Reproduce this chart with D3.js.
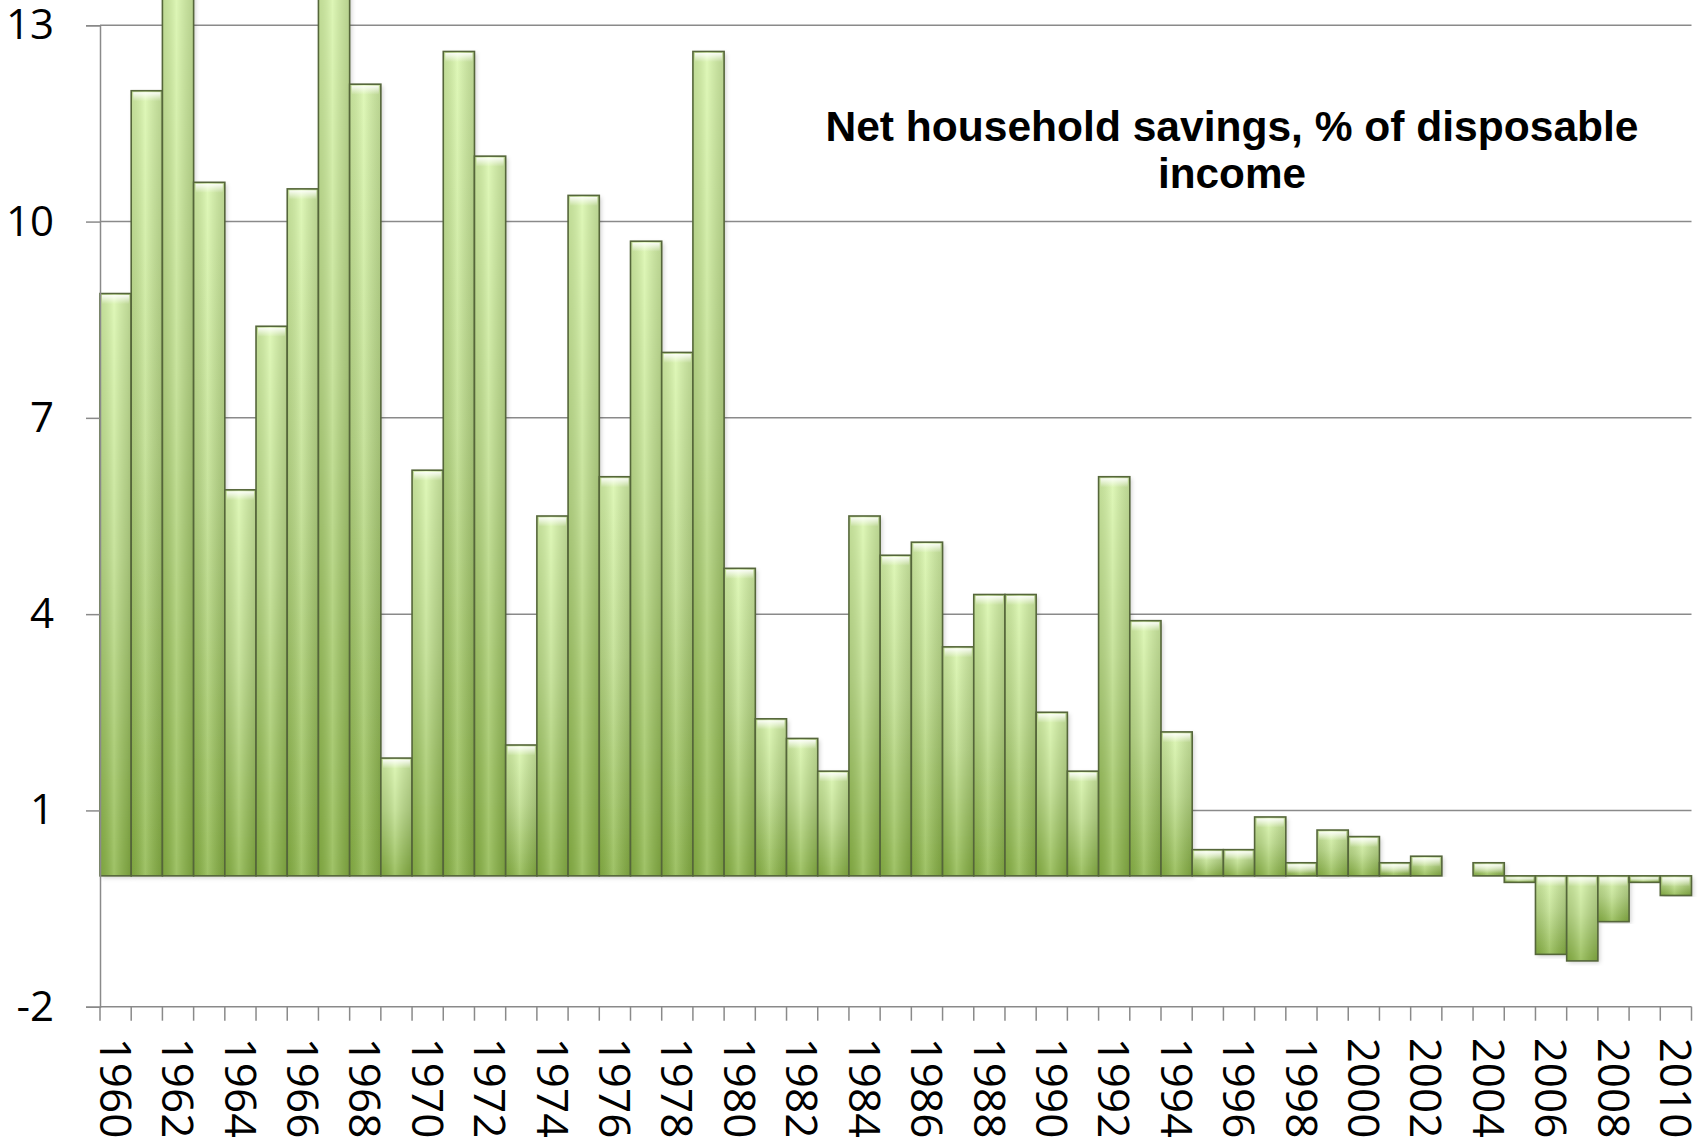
<!DOCTYPE html>
<html>
<head>
<meta charset="utf-8">
<script src="https://cdn.jsdelivr.net/npm/d3@7"></script>
<style>
  body { margin: 0; background: #fff; }
  svg { display: block; }
</style>
</head>
<body>
<div id="chart"></div>
<script>
// net household savings, % of disposable income
const years = [1960, 1961, 1962, 1963, 1964, 1965, 1966, 1967, 1968, 1969,
    1970, 1971, 1972, 1973, 1974, 1975, 1976, 1977, 1978, 1979,
    1980, 1981, 1982, 1983, 1984, 1985, 1986, 1987, 1988, 1989,
    1990, 1991, 1992, 1993, 1994, 1995, 1996, 1997, 1998, 1999,
    2000, 2001, 2002, 2003, 2004, 2005, 2006, 2007, 2008, 2009, 2010];
const savings = [8.9, 12.0, 14.0, 10.6, 5.9, 8.4, 10.5, 14.0, 12.1, 1.8,
    6.2, 12.6, 11.0, 2.0, 5.5, 10.4, 6.1, 9.7, 8.0, 12.6,
    4.7, 2.4, 2.1, 1.6, 5.5, 4.9, 5.1, 3.5, 4.3, 4.3,
    2.5, 1.6, 6.1, 3.9, 2.2, 0.4, 0.4, 0.9, 0.2, 0.7,
    0.6, 0.2, 0.3, 0, 0.2, -0.1, -1.2, -1.3, -0.7, -0.1, -0.3];
const yTicks = [-2, 1, 4, 7, 10, 13];
const titleLines = ["Net household savings, % of disposable", "income"];

const svgWidth = 1700;
const svgHeight = 1137;
const margins = { "top": 25.3, "right": 8.5, "bottom": 130.3, "left": 100 };

const chartWidth = svgWidth - margins.left - margins.right;
const chartHeight = svgHeight - margins.top - margins.bottom;

const data = years.map((y, i) => ({ year: y, value: savings[i] }));

const svg = d3.select("#chart")
    .append("svg")
    .attr("width", svgWidth)
    .attr("height", svgHeight);

const defs = svg.append("defs");

const vGrad = defs.append("linearGradient")
    .attr("id", "barFill")
    .attr("x1", 0).attr("y1", 0).attr("x2", 0).attr("y2", 1);
vGrad.append("stop").attr("offset", "0%").attr("stop-color", "#d8f6a9");
vGrad.append("stop").attr("offset", "45%").attr("stop-color", "#bcdd88");
vGrad.append("stop").attr("offset", "100%").attr("stop-color", "#8ab545");

const hGrad = defs.append("linearGradient")
    .attr("id", "barShade")
    .attr("x1", 0).attr("y1", 0).attr("x2", 1).attr("y2", 0);
hGrad.append("stop").attr("offset", "0%").attr("stop-color", "#000").attr("stop-opacity", 0.10);
hGrad.append("stop").attr("offset", "45%").attr("stop-color", "#fff").attr("stop-opacity", 0.18);
hGrad.append("stop").attr("offset", "100%").attr("stop-color", "#000").attr("stop-opacity", 0.14);

const topGrad = defs.append("linearGradient")
    .attr("id", "barTop")
    .attr("x1", 0).attr("y1", 0).attr("x2", 0).attr("y2", 1);
topGrad.append("stop").attr("offset", "0%").attr("stop-color", "#fff").attr("stop-opacity", 0.9);
topGrad.append("stop").attr("offset", "100%").attr("stop-color", "#fff").attr("stop-opacity", 0);

const shadow = defs.append("filter").attr("id", "shadow")
    .attr("x", "-20%").attr("y", "-5%").attr("width", "140%").attr("height", "110%");
shadow.append("feDropShadow")
    .attr("dx", 2).attr("dy", 2).attr("stdDeviation", 2)
    .attr("flood-color", "#000").attr("flood-opacity", 0.18);

const chartGroup = svg.append("g")
    .attr("transform", `translate(${margins.left}, ${margins.top})`);

const xScale = d3.scaleBand()
    .domain(years)
    .range([0, chartWidth])
    .padding(0);

const yScale = d3.scaleLinear()
    .domain([-2, 13])
    .range([chartHeight, 0]);

// gridlines
chartGroup.append("g")
    .selectAll("line")
    .data(yTicks.filter(d => d !== -2))
    .enter()
    .append("line")
    .attr("x1", 0)
    .attr("x2", chartWidth)
    .attr("y1", d => yScale(d))
    .attr("y2", d => yScale(d))
    .attr("stroke", "#8a8a8a")
    .attr("stroke-width", 1.5);

// bars
const bars = chartGroup.append("g")
    .selectAll("g")
    .data(data.filter(d => d.value !== 0))
    .enter()
    .append("g");

const barX = d => xScale(d.year);
const barY = d => Math.min(yScale(d.value), yScale(0));
const barH = d => Math.abs(yScale(d.value) - yScale(0));

bars.append("rect")
    .attr("x", barX)
    .attr("y", barY)
    .attr("width", xScale.bandwidth())
    .attr("height", barH)
    .attr("fill", "url(#barFill)")
    .attr("filter", "url(#shadow)");

bars.append("rect")
    .attr("x", barX)
    .attr("y", barY)
    .attr("width", xScale.bandwidth())
    .attr("height", barH)
    .attr("fill", "url(#barShade)");

bars.append("rect")
    .attr("x", d => barX(d) + 2)
    .attr("y", d => barY(d) + 1.5)
    .attr("width", xScale.bandwidth() - 4)
    .attr("height", d => Math.min(9, barH(d) - 2))
    .attr("fill", "url(#barTop)");

bars.append("rect")
    .attr("x", barX)
    .attr("y", barY)
    .attr("width", xScale.bandwidth())
    .attr("height", barH)
    .attr("fill", "none")
    .attr("stroke", "#55663a")
    .attr("stroke-width", 1.6);

// y axis
const leftAxis = d3.axisLeft(yScale)
    .tickValues(yTicks)
    .tickSize(14)
    .tickPadding(32)
    .tickFormat(d => String(d));

const yAxis = chartGroup.append("g").call(leftAxis);
yAxis.select(".domain").attr("stroke", "#8a8a8a").attr("stroke-width", 1.5);
yAxis.selectAll(".tick line").attr("stroke", "#8a8a8a").attr("stroke-width", 1.5);
yAxis.selectAll(".tick text")
    .attr("font-family", "'Open Sans', sans-serif")
    .attr("font-size", 42)
    .attr("fill", "#000");

// x axis: line plus ticks on the band edges
const xAxis = chartGroup.append("g")
    .attr("transform", `translate(0, ${chartHeight})`);

xAxis.append("line")
    .attr("x1", 0)
    .attr("x2", chartWidth)
    .attr("stroke", "#8a8a8a")
    .attr("stroke-width", 1.5);

const edges = years.map(y => xScale(y)).concat([xScale(years[years.length - 1]) + xScale.bandwidth()]);
xAxis.selectAll(".edge")
    .data(edges)
    .enter()
    .append("line")
    .attr("x1", d => d)
    .attr("x2", d => d)
    .attr("y1", 0)
    .attr("y2", 14)
    .attr("stroke", "#8a8a8a")
    .attr("stroke-width", 1.5);

xAxis.selectAll(".yearLabel")
    .data(years.filter(y => y % 2 === 0))
    .enter()
    .append("text")
    .attr("transform", d => `translate(${xScale(d) + xScale.bandwidth() / 2}, 31) rotate(90)`)
    .attr("dy", "0.36em")
    .attr("font-family", "'Open Sans', sans-serif")
    .attr("font-size", 44)
    .attr("fill", "#000")
    .text(d => d);

// title
const title = svg.append("g")
    .attr("font-family", "'Liberation Sans', Arial, sans-serif")
    .attr("font-weight", "bold")
    .attr("font-size", 43)
    .attr("fill", "#000")
    .attr("text-anchor", "middle");

title.append("text")
    .attr("x", 1232)
    .attr("y", 141)
    .attr("textLength", 813)
    .attr("lengthAdjust", "spacingAndGlyphs")
    .text(titleLines[0]);

title.append("text")
    .attr("x", 1232)
    .attr("y", 188)
    .attr("textLength", 148)
    .attr("lengthAdjust", "spacingAndGlyphs")
    .text(titleLines[1]);
</script>
</body>
</html>
